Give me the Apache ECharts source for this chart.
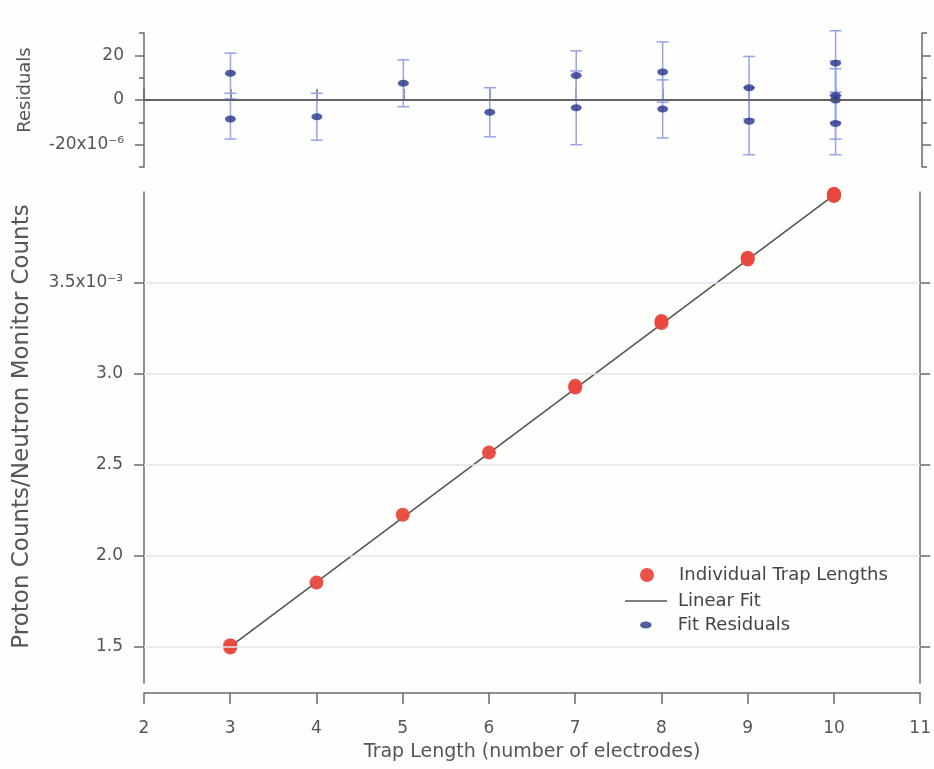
<!DOCTYPE html>
<html>
<head>
<meta charset="utf-8">
<script src="https://cdn.jsdelivr.net/npm/echarts@6/dist/echarts.min.js"></script>
<style>
html,body{margin:0;padding:0;background:#fefefc;}
#chart{width:934px;height:769px;}
</style>
</head>
<body>
<div id="chart"></div>
<script>
// Trap length (x) for every measurement
const trapX = [3, 3, 4, 5, 6, 7, 7, 8, 8, 9, 9, 10, 10, 10, 10];
// Proton counts / neutron monitor counts (x10^-3)
const ratioY = [1.508, 1.495, 1.852, 2.225, 2.567, 2.934, 2.925, 3.291, 3.280, 3.639, 3.629, 3.990, 3.985, 3.983, 3.978];
// Fit residuals (x10^-6) and their error bars (x10^-6)
const residY = [12, -8.5, -7.5, 7.5, -5.5, 11, -3.5, 12.5, -4, 5.5, -9.5, 16.5, 2, 0, -10.5];
const residErr = [9, 9, 10.5, 10.5, 11, 11, 16.5, 13.5, 13, 14, 15, 14.5, 12, 17.5, 14];
// Linear fit end points
const fitX = [3, 10];
const fitY = [1.500, 3.983];
// Tick values
const mainTicks = [1.5, 2.0, 2.5, 3.0, 3.5];
const residMajorTicks = [-20, 0, 20];

const FONT = 'DejaVu Sans';
const AX = '#6a6a6a';
const TXT = '#555555';

const scatterData = trapX.map((x, i) => [x, ratioY[i]]);
const residData = trapX.map((x, i) => [x, residY[i]]);
const errData = trapX.map((x, i) => [x, residY[i] - residErr[i], residY[i] + residErr[i]]);
const fitData = fitX.map((x, i) => [x, fitY[i]]);

const chart = echarts.init(document.getElementById('chart'), null, {renderer: 'canvas'});

function mainLabel(v) {
  const r = Math.round(v * 10) / 10;
  if (Math.abs(r - 3.5) < 1e-9) return '3.5x10\u207B\u00B3';
  return r.toFixed(1);
}
function residLabel(v) {
  const r = Math.round(v);
  if (r === -20) return '-20x10\u207B\u2076';
  return String(r);
}

const legendText = {fontSize: 18, color: '#444', fontFamily: FONT, padding: [0, 0, 0, 6]};

const option = {
  backgroundColor: '#fefefc',
  animation: false,
  textStyle: {fontFamily: FONT},
  grid: [
    {left: 144, right: 12, top: 33, height: 134},
    {left: 144, right: 12, top: 192, height: 491}
  ],
  legend: [
    {data: [{name: 'Individual Trap Lengths', icon: 'circle'}], left: 640, top: 566, padding: 0,
     itemWidth: 42, itemHeight: 14, textStyle: legendText, selectedMode: false},
    {data: [{name: 'Linear Fit', icon: 'path://M0,0 L42,0 L42,1.6 L0,1.6 Z'}], left: 625, top: 592, padding: 0,
     itemWidth: 42, itemHeight: 14, textStyle: legendText, selectedMode: false},
    {data: [{name: 'Fit Residuals', icon: 'path://M0,3 A5,3 0 1,0 10,3 A5,3 0 1,0 0,3 Z'}], left: 640, top: 616, padding: 0,
     itemWidth: 42, itemHeight: 7, textStyle: legendText, selectedMode: false}
  ],
  xAxis: [
    {type: 'value', gridIndex: 0, position: 'top', offset: 9, min: 2, max: 11, interval: 1,
     axisLine: {show: true, lineStyle: {color: AX, width: 1.5}},
     axisTick: {show: true, inside: false, length: 11, lineStyle: {color: AX, width: 1.5}},
     axisLabel: {show: false}, splitLine: {show: false}},
    {type: 'value', gridIndex: 1, position: 'bottom', offset: 10, min: 2, max: 11, interval: 1,
     name: 'Trap Length (number of electrodes)', nameLocation: 'middle', nameGap: 50,
     nameTextStyle: {fontSize: 19, color: TXT, fontFamily: FONT},
     axisLine: {show: true, lineStyle: {color: AX, width: 1.5}},
     axisTick: {show: true, inside: false, length: 11, lineStyle: {color: AX, width: 1.5}},
     axisLabel: {show: true, margin: 27, fontSize: 17, color: TXT, fontFamily: FONT},
     splitLine: {show: false}}
  ],
  yAxis: [
    {type: 'value', gridIndex: 0, position: 'left', min: -30, max: 30, interval: 10,
     name: 'Residuals', nameLocation: 'middle', nameRotate: 90, nameGap: 110,
     nameTextStyle: {fontSize: 18, color: TXT, fontFamily: FONT, padding: [0, 0, 0, 20]},
     axisLine: {show: true, lineStyle: {color: AX, width: 1.5}},
     axisTick: {show: true, inside: false, length: 9, customValues: residMajorTicks, lineStyle: {color: AX, width: 1.5}},
     axisLabel: {show: true, margin: 20, fontSize: 17, color: TXT, fontFamily: FONT, customValues: residMajorTicks, formatter: residLabel},
     splitLine: {show: false}},
    {type: 'value', gridIndex: 0, position: 'left', min: -30, max: 30, interval: 10,
     axisLine: {show: false},
     axisTick: {show: true, inside: false, length: 5, lineStyle: {color: AX, width: 1.5}},
     axisLabel: {show: false}, splitLine: {show: false}},
    {type: 'value', gridIndex: 0, position: 'right', min: -30, max: 30, interval: 10,
     axisLine: {show: true, lineStyle: {color: AX, width: 1.5}},
     axisTick: {show: true, inside: false, length: 9, customValues: residMajorTicks, lineStyle: {color: AX, width: 1.5}},
     axisLabel: {show: false}, splitLine: {show: false}},
    {type: 'value', gridIndex: 0, position: 'right', min: -30, max: 30, interval: 10,
     axisLine: {show: false},
     axisTick: {show: true, inside: false, length: 5, lineStyle: {color: AX, width: 1.5}},
     axisLabel: {show: false}, splitLine: {show: false}},
    {type: 'value', gridIndex: 1, position: 'left', min: 1.3, max: 4.0,
     name: 'Proton Counts/Neutron Monitor Counts', nameLocation: 'middle', nameRotate: 90, nameGap: 110,
     nameTextStyle: {fontSize: 23, color: TXT, fontFamily: FONT, padding: [0, 0, 0, 22]},
     axisLine: {show: true, lineStyle: {color: AX, width: 1.5}},
     axisTick: {show: true, inside: false, length: 10, customValues: mainTicks, lineStyle: {color: AX, width: 1.5}},
     axisLabel: {show: true, margin: 21, fontSize: 17, color: TXT, fontFamily: FONT, customValues: mainTicks, formatter: mainLabel},
     splitLine: {show: false}},
    {type: 'value', gridIndex: 1, position: 'right', min: 1.3, max: 4.0,
     axisLine: {show: true, lineStyle: {color: AX, width: 1.5}},
     axisTick: {show: true, inside: false, length: 10, customValues: mainTicks, lineStyle: {color: AX, width: 1.5}},
     axisLabel: {show: false}, splitLine: {show: false}}
  ],
  series: [
    {
      name: 'Linear Fit', type: 'line', xAxisIndex: 1, yAxisIndex: 4, data: fitData,
      symbol: 'none', lineStyle: {color: '#555555', width: 1.6}, itemStyle: {color: '#555555'}, z: 3,
      markLine: {silent: true, symbol: 'none', label: {show: false},
        lineStyle: {color: '#e0e5ef', width: 1.5, type: 'solid'},
        data: mainTicks.map(v => ({yAxis: v}))}
    },
    {
      name: 'Individual Trap Lengths', type: 'scatter', xAxisIndex: 1, yAxisIndex: 4, data: scatterData,
      symbol: 'circle', symbolSize: 14, itemStyle: {color: '#e9483e', opacity: 0.95}, z: 4
    },
    {
      name: 'Error bars', type: 'custom', xAxisIndex: 0, yAxisIndex: 0, data: errData, z: 2,
      renderItem: function (params, api) {
        const x = api.value(0);
        const lo = api.coord([x, api.value(1)]);
        const hi = api.coord([x, api.value(2)]);
        const w = 6;
        const st = {stroke: '#95a3ea', lineWidth: 1.5};
        return {type: 'group', children: [
          {type: 'line', shape: {x1: hi[0], y1: hi[1], x2: lo[0], y2: lo[1]}, style: st},
          {type: 'line', shape: {x1: hi[0] - w, y1: hi[1], x2: hi[0] + w, y2: hi[1]}, style: st},
          {type: 'line', shape: {x1: lo[0] - w, y1: lo[1], x2: lo[0] + w, y2: lo[1]}, style: st}
        ]};
      }
    },
    {
      name: 'Fit Residuals', type: 'scatter', xAxisIndex: 0, yAxisIndex: 0, data: residData,
      symbol: 'path://M0,3 A5,3 0 1,0 10,3 A5,3 0 1,0 0,3 Z', symbolSize: [11, 7],
      itemStyle: {color: '#26358a'}, z: 4,
      markLine: {silent: true, symbol: 'none', label: {show: false},
        lineStyle: {color: '#555', width: 1.6, type: 'solid'},
        data: [{yAxis: 0}]}
    }
  ]
};
chart.setOption(option);
</script>
</body>
</html>
